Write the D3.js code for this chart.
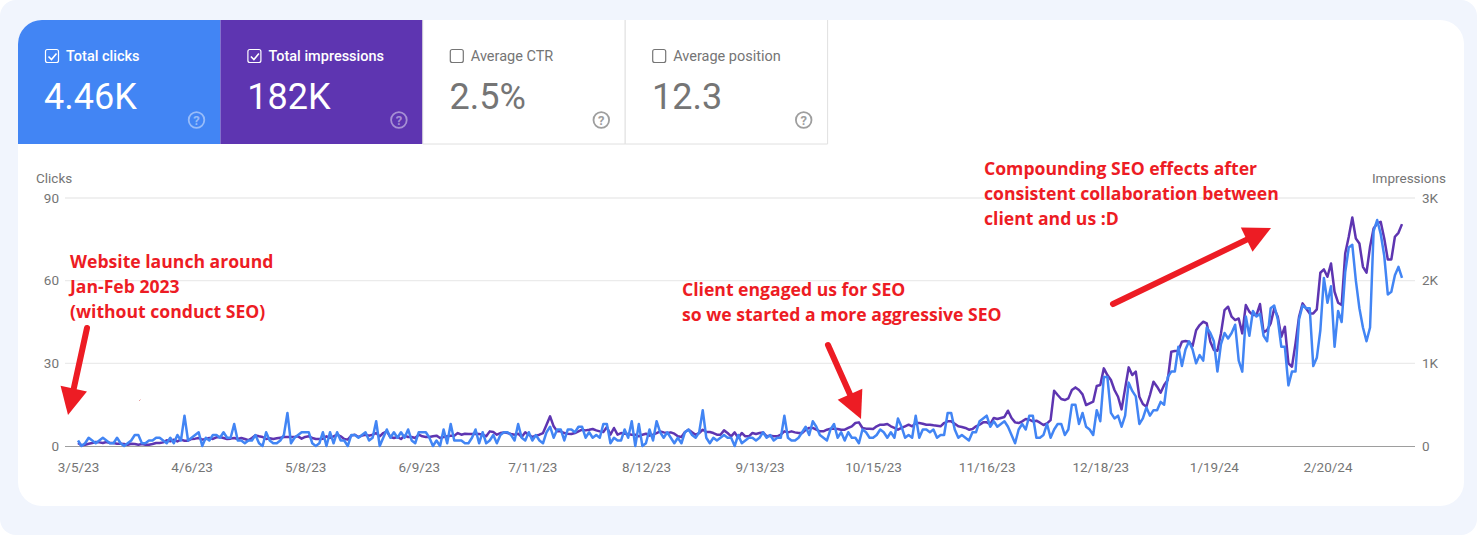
<!DOCTYPE html>
<html>
<head>
<meta charset="utf-8">
<script src="https://cdn.jsdelivr.net/npm/d3@7"></script>
<style>
html,body{margin:0;padding:0;background:#fff;overflow:hidden}
svg{display:block}
text{font-family:Roboto,sans-serif}
.note{font-family:"Open Sans",sans-serif;font-weight:700;font-size:17.6px;fill:#ed1c24}
</style>
</head>
<body>
<svg id="chart" width="1477" height="535"></svg>
<script>
// daily values, 3/5/23 to 3/12/24
const CLICKS=[
  2,0,1,3,2,1,2,3,2,1, 1,3,1,0,1,2,4,4,1,1, 2,2,3,3,2,1,3,1,4,2,
  11,2,3,4,5,0,3,2,4,4, 3,5,3,3,8,2,2,1,2,2, 4,1,0,5,2,1,1,2,4,12,
  1,3,4,5,5,5,1,0,1,5, 0,5,1,5,2,2,0,4,4,3, 4,5,2,3,9,0,3,6,3,5,
  3,5,3,6,2,1,5,5,5,3, 0,2,0,6,1,8,2,2,2,1, 1,3,6,1,5,1,2,4,1,4,
  5,5,4,2,8,3,2,5,2,4, 2,1,5,7,3,6,6,2,6,6, 5,7,7,3,5,3,4,3,8,8,
  1,3,2,2,6,3,9,0,8,0, 1,6,2,9,5,3,5,3,1,3, 1,5,6,4,3,5,13,3,1,3,
  2,3,4,3,3,0,4,1,2,3, 3,2,3,5,3,4,2,3,3,11, 3,2,2,3,5,7,4,9,7,4,
  3,2,6,8,3,5,2,5,3,3, 1,6,5,3,3,4,6,5,3,5, 3,10,7,3,4,3,11,3,6,6,
  5,6,3,4,4,12,12,6,3,4, 3,2,5,5,9,10,11,7,9,7, 8,9,7,4,1,6,8,6,11,11,
  3,3,4,8,3,6,8,8,4,6, 15,15,8,12,7,6,4,13,9,25, 25,12,10,11,7,11,23,20,18,8,
  10,14,11,13,13,16,15,25,27,27, 36,29,35,38,35,30,33,31,43,41, 38,27,37,41,39,41,44,31,27,47,
  40,49,47,48,40,38,50,51,46,36, 36,22,27,27,46,51,50,50,29,32, 42,61,52,58,36,49,45,63,72,73,
  60,50,43,38,43,78,82,77,69,55, 56,62,65,61
];
const IMPRESSIONS=[
  36,8,16,28,36,48,44,36,48,36, 36,28,28,24,16,28,24,16,24,16, 16,24,36,36,44,69,56,77,56,77,
  64,64,85,89,97,77,85,97,85,105, 109,97,85,89,97,85,97,85,69,97, 129,117,109,85,93,85,93,101,109,109,
  109,109,117,89,109,117,97,85,85,89, 117,97,117,137,117,85,77,125,137,109, 125,137,125,137,157,117,157,177,109,97,
  109,85,125,109,109,97,137,117,109,109, 117,125,97,109,117,125,125,157,137,149, 145,145,149,145,137,117,177,169,137,157,
  165,157,145,137,149,109,165,137,109,125, 137,157,258,359,238,177,177,157,149,145, 157,177,197,189,197,206,189,177,169,230,
  137,218,137,157,149,145,137,137,117,137, 149,125,137,157,177,165,157,165,149,117, 109,169,197,165,137,157,197,169,169,157,
  137,137,189,157,117,165,97,157,117,117, 157,145,157,165,117,125,117,117,137,177, 165,177,165,157,157,197,218,218,197,177,
  177,197,210,210,206,197,197,218,238,278, 286,218,210,210,206,238,258,258,266,238, 218,197,218,238,258,238,278,278,270,258,
  258,250,246,238,278,298,298,270,238,230, 218,197,206,238,258,286,286,266,339,326, 339,351,427,339,286,278,298,326,318,298,
  306,282,254,274,314,669,617,568,556,576, 677,709,677,625,496,516,536,725,737,939, 858,798,677,596,443,697,951,858,899,596,
  508,476,617,778,717,645,737,798,1140,1149, 1153,1261,1269,1261,1209,1400,1463,1503,1483,1261, 1161,1153,1362,1644,1685,1564,1523,1543,1362,1705,
  1624,1584,1584,1717,1374,1402,1483,1664,1564,1322, 1443,999,959,1241,1564,1725,1664,1604,1604,1652, 2096,2136,2047,2208,1866,1733,1705,2329,2531,2765,
  2511,2450,2168,2096,2410,2632,2692,2712,2511,2257, 2257,2531,2579,2684
];
const DATE_TICKS=['3/5/23','4/6/23','5/8/23','6/9/23','7/11/23','8/12/23','9/13/23','10/15/23','11/16/23','12/18/23','1/19/24','2/20/24'];
const CLICK_TICKS=[0,30,60,90];
const IMPRESSION_TICKS=[0,1000,2000,3000];
const TILE_LABELS=['Total clicks','Total impressions','Average CTR','Average position'];
const TILE_VALUES=['4.46K','182K','2.5%','12.3'];
const TILE_CHECKED=[true,true,false,false];
const TILE_FILLS=['#4285f4','#5e35b1','#fff','#fff'];

const NOTES=[
  {x:70,y:268,lines:['Website launch around','Jan-Feb 2023','(without conduct SEO)']},
  {x:682,y:296,lines:['Client engaged us for SEO','so we started a more aggressive SEO']},
  {x:984,y:175,lines:['Compounding SEO effects after','consistent collaboration between','client and us :D']}
];
const ARROWS=[
  {from:[87,328],to:[68,415]},
  {from:[828,345],to:[861,419]},
  {from:[1113,304],to:[1271,228]}
];

const parseDay=d3.timeParse('%m/%d/%y');
const fmtDay=d=>`${d.getMonth()+1}/${d.getDate()}/${String(d.getFullYear()).slice(2)}`;
const start=parseDay(DATE_TICKS[0]);
const dates=CLICKS.map((v,i)=>d3.timeDay.offset(start,i));

const svg=d3.select('#chart');
svg.append('rect').attr('width',1477).attr('height',535).attr('rx',16).attr('fill','#f1f5fd');
svg.append('rect').attr('x',18).attr('y',20).attr('width',1446).attr('height',486).attr('rx',24).attr('fill','#fff');

// tiles
const tileX=d3.scaleBand().domain(d3.range(4)).range([18,827.6]).padding(0);
const tileW=tileX.bandwidth();
const tiles=svg.selectAll('.tile').data(TILE_LABELS).enter().append('g')
  .attr('class','tile')
  .attr('transform',(d,i)=>`translate(${tileX(i)},20)`);
tiles.filter((d,i)=>i>0).append('path')
  .attr('d',`M0,0V124H${tileW}V0Z`)
  .attr('fill',(d,i)=>TILE_FILLS[i+1]);
svg.select('.tile').append('path')
  .attr('d',`M0,124V24A24,24 0 0 1 24,0H${tileW}V124Z`).attr('fill',TILE_FILLS[0]);
// thin borders round the two unchecked tiles
tiles.filter((d,i)=>i>1).append('path')
  .attr('d',`M0,0V124H${tileW}V0`).attr('fill','none').attr('stroke','#e0e0e0');

const ink=(d,i)=>TILE_CHECKED[i]?'#fff':'#757575';
tiles.append('rect').attr('x',27.5).attr('y',29.5).attr('width',13).attr('height',13).attr('rx',2)
  .attr('fill','none').attr('stroke',ink).attr('stroke-width',1.2);
tiles.filter((d,i)=>TILE_CHECKED[i]).append('path').attr('d','M30.5,36.5l3,3l5,-6')
  .attr('fill','none').attr('stroke','#fff').attr('stroke-width',1.6);
tiles.append('text').attr('x',48).attr('y',41).attr('font-size',14.5).attr('fill',ink)
  .attr('font-weight',(d,i)=>TILE_CHECKED[i]?500:400)
  .text(d=>d);
tiles.append('text').attr('x',(d,i)=>i?26.8:26).attr('y',89).attr('font-size',36).attr('fill',ink)
  .text((d,i)=>TILE_VALUES[i]);
const helpInk=(d,i)=>TILE_CHECKED[i]?'rgba(255,255,255,.45)':'#9e9e9e';
tiles.append('circle').attr('cx',178.5).attr('cy',100).attr('r',7.8).attr('fill','none')
  .attr('stroke',helpInk).attr('stroke-width',1.8);
tiles.append('text').attr('x',178.5).attr('y',104.7).attr('text-anchor','middle').attr('font-size',13).attr('font-weight',700)
  .attr('fill',helpInk).text('?');

// scales
const x=d3.scaleTime().domain([dates[0],dates[dates.length-1]]).range([78,1402]);
const yClicks=d3.scaleLinear().domain([0,90]).range([446,198]);
const yImpr=d3.scaleLinear().domain([0,3000]).range([446,198]);

// grid
svg.append('g').selectAll('line').data(CLICK_TICKS.slice(1)).enter().append('line')
  .attr('x1',65).attr('x2',1415)
  .attr('y1',d=>yClicks(d)).attr('y2',d=>yClicks(d))
  .attr('stroke','#ebebeb').attr('stroke-width',1.4);
svg.append('line').attr('x1',65).attr('x2',1415).attr('y1',446.5).attr('y2',446.5).attr('stroke','#9e9e9e');

// axes
const axisStyle=g=>{
  g.select('.domain').remove();
  g.selectAll('.tick line').remove();
  g.selectAll('text').attr('fill','#757575').attr('font-size',13.5).attr('font-family','Roboto,sans-serif');
};
svg.append('g').attr('transform','translate(0,446)')
  .call(d3.axisBottom(x).tickValues(DATE_TICKS.map(parseDay)).tickFormat(fmtDay).tickSize(0).tickPadding(16))
  .call(axisStyle);
svg.append('g').attr('transform','translate(65,0)')
  .call(d3.axisLeft(yClicks).tickValues(CLICK_TICKS).tickSize(0).tickPadding(6))
  .call(axisStyle);
svg.append('g').attr('transform','translate(1415,0)')
  .call(d3.axisRight(yImpr).tickValues(IMPRESSION_TICKS).tickFormat(d=>d?d/1000+'K':'0').tickSize(0).tickPadding(7))
  .call(axisStyle);
svg.append('text').attr('x',36).attr('y',183).attr('font-size',13.5).attr('fill','#757575').text('Clicks');
svg.append('text').attr('x',1446).attr('y',183).attr('text-anchor','end').attr('font-size',13.5).attr('fill','#757575').text('Impressions');

// lines, clicks on top
const line=d3.line().x((d,i)=>x(dates[i]));
svg.append('path').datum(IMPRESSIONS).attr('d',line.y(d=>yImpr(d)))
  .attr('fill','none').attr('stroke','#5e35b1').attr('stroke-width',2.5).attr('stroke-linejoin','round');
svg.append('path').datum(CLICKS).attr('d',line.y(d=>yClicks(d)))
  .attr('fill','none').attr('stroke','#4285f4').attr('stroke-width',2.5).attr('stroke-linejoin','round');

// annotations
const notes=svg.selectAll('.note').data(NOTES).enter().append('text').attr('class','note');
notes.selectAll('tspan').data(d=>d.lines.map(t=>({t,x:d.x,y:d.y}))).enter().append('tspan')
  .attr('x',d=>d.x).attr('y',(d,i)=>d.y+i*25).text(d=>d.t);

const arrows=svg.selectAll('.arrow').data(ARROWS).enter().append('g').attr('class','arrow')
  .attr('transform',d=>{
    const a=Math.atan2(d.to[1]-d.from[1],d.to[0]-d.from[0])*180/Math.PI;
    return `translate(${d.to}) rotate(${a})`;
  });
const len=d=>Math.hypot(d.to[0]-d.from[0],d.to[1]-d.from[1]);
arrows.append('line').attr('x1',d=>-len(d)).attr('x2',-20).attr('y1',0).attr('y2',0)
  .attr('stroke','#ed1c24').attr('stroke-width',6).attr('stroke-linecap','round');
arrows.append('path').attr('d','M0,0L-27,-13.5L-27,13.5Z').attr('fill','#ed1c24');
// stray speck left in the screenshot
svg.append('line').attr('x1',139).attr('y1',401).attr('x2',140.5).attr('y2',399.5).attr('stroke','#e8a0a0');
</script>
</body>
</html>
